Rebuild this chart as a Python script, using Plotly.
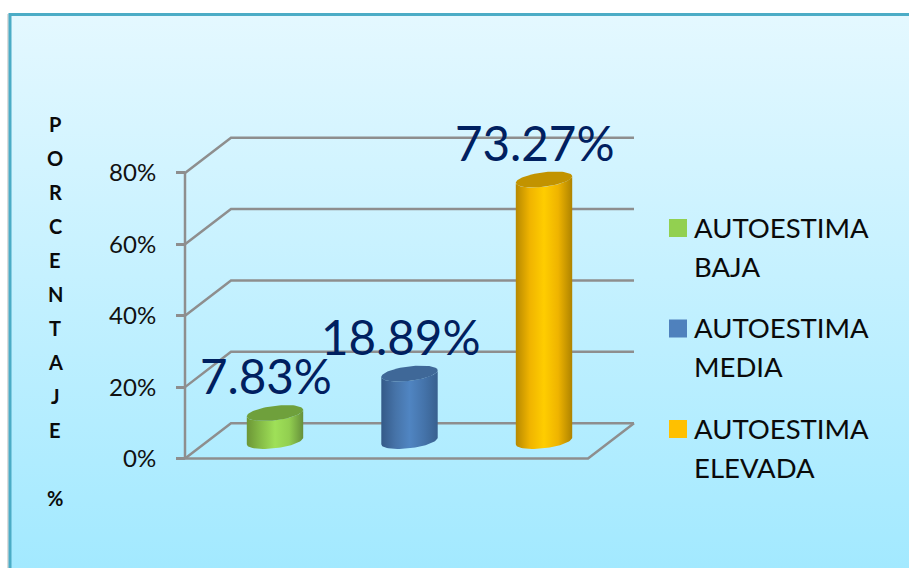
import numpy as np
import plotly.graph_objects as go

# ---- data ----
CATEGORIES = ["AUTOESTIMA BAJA", "AUTOESTIMA MEDIA", "AUTOESTIMA ELEVADA"]
VALUES = [7.83, 18.89, 73.27]
LABELS = ["7.83%", "18.89%", "73.27%"]
LEGEND_LINES = [["AUTOESTIMA", "BAJA"], ["AUTOESTIMA", "MEDIA"], ["AUTOESTIMA", "ELEVADA"]]
TICK_VALUES = [0, 20, 40, 60, 80]
TICK_LABELS = ["0%", "20%", "40%", "60%", "80%"]
AXIS_LETTERS = ["P", "O", "R", "C", "E", "N", "T", "A", "J", "E", "", "%"]

# ---- style ----
W, H = 909, 568
FONT = "Lato"
GREY = "#8e8e8e"
LEGEND_COLORS = ["#92d050", "#4f81bd", "#ffc000"]
BODY = [
    ["#6c9636", "#86bd47", "#9fe058", "#92cf50", "#66903a"],
    ["#345a88", "#4673a8", "#5085c2", "#4574ab", "#38608f"],
    ["#b78900", "#f0b400", "#ffcd00", "#efb400", "#ae8300"],
]
CAP = ["#6fa03c", "#3f6898", "#c29300"]

# scale: pixels per unit on both axes
X0_PX, X_STEP = 275.0, 134.5
Y0_PX, Y_STEP = 458.5, 3.569
to_x = lambda px: (px - X0_PX) / X_STEP
to_y = lambda py: (Y0_PX - py) / Y_STEP

FRONT_L, FRONT_R = to_x(185), to_x(588)
DEPTH_X = to_x(231) - to_x(185)
DEPTH_Y = 9.9
BACK_R = FRONT_R + DEPTH_X
BASE = 4.9
A, B, TILT = 28.2 / X_STEP, 7.3 / Y_STEP, 3.3 / Y_STEP

fig = go.Figure()


def deco(**kw):
    fig.add_trace(go.Scatter(showlegend=False, hoverinfo="skip", **kw))


# panel background
px_l, px_t = 10, 15
deco(
    x=[to_x(px_l), to_x(W + 5), to_x(W + 5), to_x(px_l), to_x(px_l)],
    y=[to_y(px_t), to_y(px_t), to_y(H + 5), to_y(H + 5), to_y(px_t)],
    mode="lines", line=dict(width=0), fill="toself",
    fillgradient=dict(type="vertical", colorscale=[[0, "#a2e9ff"], [1, "#e4f8ff"]]),
)
deco(x=[to_x(8), to_x(8)], y=[to_y(14), to_y(H + 5)], mode="lines",
     line=dict(color="#dcdcdc", width=2))
deco(x=[to_x(10), to_x(10), to_x(W + 5)], y=[to_y(H + 5), to_y(14.5), to_y(14.5)],
     mode="lines", line=dict(color="#4bacc6", width=3))

# wall and floor
line = dict(color=GREY, width=2.5)
deco(x=[FRONT_L, FRONT_L], y=[TICK_VALUES[0], TICK_VALUES[-1]], mode="lines", line=line)
for v in TICK_VALUES:
    deco(x=[FRONT_L, FRONT_L + DEPTH_X, BACK_R], y=[v, v + DEPTH_Y, v + DEPTH_Y],
         mode="lines", line=line)
deco(x=[FRONT_L, FRONT_R, BACK_R], y=[0, 0, DEPTH_Y], mode="lines", line=line)

# cylinders
t_low = np.linspace(np.pi, 0, 40)
t_all = np.linspace(0, 2 * np.pi, 80)


def ring(cx, cy, t):
    return cx + A * np.cos(t), cy - B * np.sin(t) + TILT * np.cos(t)


for i, (cat, v) in enumerate(zip(CATEGORIES, VALUES)):
    top = v + BASE
    bx, by = ring(i, BASE, t_low)
    tx, ty = ring(i, top, t_low[::-1])
    stops = np.linspace(0, 1, len(BODY[i]))
    fig.add_trace(go.Scatter(
        x=np.r_[bx, tx, bx[0]], y=np.r_[by, ty, by[0]],
        name=cat, mode="lines", line=dict(width=0), fill="toself", showlegend=False,
        fillgradient=dict(type="horizontal", colorscale=[[float(s), c] for s, c in zip(stops, BODY[i])]),
        hoverinfo="skip",
    ))
    cx, cy = ring(i, top, t_all)
    deco(x=cx, y=cy, mode="lines", line=dict(width=0), fill="toself", fillcolor=CAP[i])

# legend squares
for i, cat in enumerate(CATEGORIES):
    fig.add_trace(go.Scatter(
        x=[to_x(678)], y=[to_y(228 + i * 100.5)], mode="markers", name=cat, showlegend=False,
        marker=dict(symbol="square", size=18, color=LEGEND_COLORS[i]), hoverinfo="name",
    ))

annotations = []
for i, (lab, v) in enumerate(zip(LABELS, VALUES)):
    annotations.append(dict(
        x=i - 9.5 / X_STEP, y=v + 15.3, text=lab, showarrow=False, xanchor="center", yanchor="middle",
        font=dict(family=FONT, size=47.5, color="#002060"),
    ))
for i, lines in enumerate(LEGEND_LINES):
    for j, s in enumerate(lines):
        annotations.append(dict(
            x=to_x(694), y=to_y(227 + i * 100.5 + j * 39), text=s, showarrow=False,
            xanchor="left", yanchor="middle", xshift=-2,
            font=dict(family=FONT, size=27.5, color="#0a0a0a"),
        ))
for i, s in enumerate(AXIS_LETTERS):
    if s:
        annotations.append(dict(
            x=to_x(55), y=to_y(124 + i * 34.0), text=s, showarrow=False,
            xanchor="center", yanchor="middle",
            font=dict(family=FONT, size=20, color="#0a0a0a", weight="bold"),
        ))

fig.update_layout(
    width=W, height=H, margin=dict(l=0, r=0, t=0, b=0), autosize=False,
    paper_bgcolor="white", plot_bgcolor="rgba(0,0,0,0)", showlegend=False,
    annotations=annotations,
    xaxis=dict(range=[to_x(0), to_x(W)], visible=False, domain=[0, 1]),
    yaxis=dict(
        range=[to_y(H), to_y(0)], domain=[0, 1], anchor="free", position=185 / W,
        tickmode="array", tickvals=TICK_VALUES, ticktext=TICK_LABELS,
        ticks="outside", ticklen=9, tickwidth=2.5, tickcolor=GREY,
        showgrid=False, zeroline=False, showline=False, ticklabelstandoff=15,
        tickfont=dict(family=FONT, size=24, color="#111111"),
    ),
)
fig.write_html(
    "out.html",
    config=dict(displayModeBar=False),
    post_script="document.body.style.margin='0';document.documentElement.style.overflow='hidden';",
)
